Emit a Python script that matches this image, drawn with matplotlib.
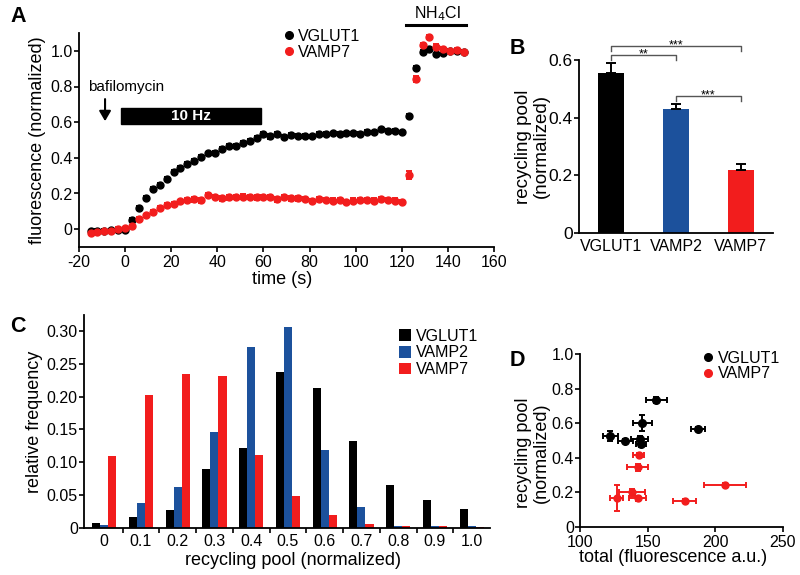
import numpy as np
import matplotlib
matplotlib.use("Agg")
import matplotlib.pyplot as plt
from matplotlib.lines import Line2D
from matplotlib.patches import Rectangle

plt.rcParams['font.family'] = ['Liberation Sans', 'DejaVu Sans']
plt.rcParams['axes.unicode_minus'] = False
plt.rcParams['axes.linewidth'] = 1.3
plt.rcParams['xtick.direction'] = 'out'
plt.rcParams['ytick.direction'] = 'out'

BLACK = '#000000'
BLUE = '#1c519c'
RED = '#f21d1d'

# ---- panel A: time course ----
time_s = [-15, -12, -9, -6, -3, 0, 3, 6, 9, 12, 15, 18, 21, 24, 27, 30, 33, 36, 39,
          42, 45, 48, 51, 54, 57, 60, 63, 66, 69, 72, 75, 78, 81, 84, 87, 90, 93, 96,
          99, 102, 105, 108, 111, 114, 117, 120, 123, 126, 129, 132, 135, 138, 141,
          144, 147]
vglut1_trace = [-0.01, -0.008, -0.008, -0.006, -0.003, -0.003, 0.053, 0.12, 0.175,
                0.225, 0.25, 0.283, 0.32, 0.345, 0.365, 0.385, 0.405, 0.425, 0.428,
                0.45, 0.468, 0.468, 0.485, 0.495, 0.512, 0.535, 0.52, 0.535, 0.518,
                0.527, 0.525, 0.525, 0.52, 0.535, 0.535, 0.537, 0.535, 0.537, 0.537,
                0.533, 0.545, 0.543, 0.56, 0.553, 0.55, 0.543, 0.636, 0.902, 0.994,
                1.01, 0.98, 0.987, 1.0, 1.0, 0.996]
vglut1_trace_err = [0.008, 0.008, 0.008, 0.008, 0.008, 0.008, 0.009, 0.01, 0.01,
                    0.01, 0.01, 0.01, 0.01, 0.01, 0.01, 0.01, 0.01, 0.01, 0.01,
                    0.01, 0.01, 0.01, 0.01, 0.01, 0.01, 0.01, 0.012, 0.012, 0.01,
                    0.01, 0.01, 0.01, 0.01, 0.01, 0.01, 0.01, 0.01, 0.01, 0.01,
                    0.01, 0.01, 0.01, 0.01, 0.01, 0.01, 0.01, 0.012, 0.012, 0.01,
                    0.01, 0.01, 0.01, 0.008, 0.008, 0.008]
vamp7_trace = [-0.022, -0.015, -0.013, -0.008, 0.0, 0.004, 0.015, 0.058, 0.077,
               0.096, 0.12, 0.135, 0.143, 0.156, 0.163, 0.167, 0.161, 0.19, 0.18,
               0.172, 0.178, 0.18, 0.183, 0.18, 0.178, 0.181, 0.18, 0.167, 0.18,
               0.172, 0.172, 0.168, 0.156, 0.17, 0.162, 0.16, 0.162, 0.152, 0.16,
               0.162, 0.165, 0.16, 0.168, 0.165, 0.16, 0.152, 0.304, 0.842, 1.034,
               1.077, 1.024, 1.01, 1.0, 1.006, 0.996]
vamp7_trace_err = [0.01, 0.01, 0.01, 0.01, 0.01, 0.01, 0.01, 0.01, 0.01,
                   0.01, 0.01, 0.01, 0.01, 0.01, 0.01, 0.012, 0.012, 0.012, 0.012,
                   0.012, 0.012, 0.012, 0.012, 0.012, 0.012, 0.012, 0.012, 0.012, 0.012,
                   0.012, 0.012, 0.012, 0.012, 0.012, 0.012, 0.012, 0.012, 0.012, 0.012,
                   0.012, 0.012, 0.012, 0.012, 0.012, 0.012, 0.012, 0.02, 0.015, 0.012,
                   0.012, 0.012, 0.01, 0.01, 0.01, 0.01]

# ---- panel B: mean recycling pool ----
probes = ['VGLUT1', 'VAMP2', 'VAMP7']
pool_mean = [0.555, 0.43, 0.218]
pool_sem = [0.035, 0.017, 0.022]

# ---- panel C: histogram ----
bin_labels = ['0', '0.1', '0.2', '0.3', '0.4', '0.5', '0.6', '0.7', '0.8', '0.9', '1.0']
freq_vglut1 = [0.007, 0.016, 0.027, 0.09, 0.121, 0.238, 0.213, 0.132, 0.065, 0.043, 0.029]
freq_vamp2 = [0.004, 0.038, 0.062, 0.146, 0.275, 0.306, 0.119, 0.032, 0.003, 0.003, 0.003]
freq_vamp7 = [0.11, 0.202, 0.234, 0.231, 0.111, 0.049, 0.02, 0.006, 0.003, 0.003, 0.002]

# ---- panel D: pool vs total ----
total_vglut1 = [156.5, 146, 187, 122.5, 133.5, 144, 145]
total_vglut1_err = [7.9, 7, 5, 5.5, 5.3, 6, 3.5]
frac_vglut1 = [0.734, 0.60, 0.566, 0.525, 0.50, 0.51, 0.48]
frac_vglut1_err = [0.02, 0.045, 0.01, 0.03, 0.01, 0.015, 0.015]
total_vamp7 = [143.5, 142.5, 207, 138.5, 127, 142.5, 177.5]
total_vamp7_err = [4, 8, 15.5, 9.8, 4.9, 6.3, 8.5]
frac_vamp7 = [0.418, 0.344, 0.243, 0.20, 0.167, 0.167, 0.152]
frac_vamp7_err = [0.01, 0.02, 0.01, 0.02, 0.077, 0.015, 0.01]

W, H = 800, 575
fig = plt.figure(figsize=(8, 5.75), dpi=100)


def add_ax(l, t, r, b):
    a = fig.add_axes([l / W, 1 - b / H, (r - l) / W, (b - t) / H])
    a.spines['top'].set_visible(False)
    a.spines['right'].set_visible(False)
    a.tick_params(length=3.5, width=1.2, pad=1, labelsize=11.5)
    return a


# ===== A =====
ax = add_ax(79, 33, 494, 247)
ax.errorbar(time_s, vglut1_trace, yerr=vglut1_trace_err, fmt='o', ms=5, color=BLACK,
            ecolor=BLACK, elinewidth=1.4, capsize=2.2, capthick=1.4)
ax.errorbar(time_s, vamp7_trace, yerr=vamp7_trace_err, fmt='o', ms=5, color=RED,
            ecolor=RED, elinewidth=1.4, capsize=2.2, capthick=1.4)
ax.set_xlim(-20, 160)
ax.set_ylim(-0.1, 1.1)
ax.set_xticks(range(-20, 161, 20))
ax.set_yticks([0, 0.2, 0.4, 0.6, 0.8, 1.0])
ax.set_yticklabels(['0', '0.2', '0.4', '0.6', '0.8', '1.0'])
ax.tick_params(axis='x', pad=2)
ax.set_xlabel('time (s)', fontsize=13)
ax.xaxis.set_label_coords(0.49, -0.112)
ax.set_ylabel('fluorescence (normalized)', fontsize=13)
ax.yaxis.set_label_coords(-0.08, 0.5)
ax.text(-16, 0.8, 'bafilomycin', fontsize=11, va='center', ha='left')
ax.annotate('', xy=(-8.7, 0.59), xytext=(-8.7, 0.745),
            arrowprops=dict(arrowstyle='-|>,head_width=0.35,head_length=0.6',
                            color='black', lw=1.5))
ax.add_patch(Rectangle((-2, 0.59), 61, 0.09, color='black'))
ax.text(28.5, 0.633, '10 Hz', color='white', fontsize=11, fontweight='bold',
        ha='center', va='center')
ax.plot([122, 148], [1.143, 1.143], color='black', lw=2.2, clip_on=False)
ax.text(135.5, 1.21, 'NH$_4$Cl', fontsize=11.5, ha='center', va='center')
ax.legend(handles=[Line2D([], [], marker='o', ls='', ms=5.5, color=BLACK),
                   Line2D([], [], marker='o', ls='', ms=5.5, color=RED)],
          labels=['VGLUT1', 'VAMP7'], loc='upper left', bbox_to_anchor=(0.49, 1.02),
          frameon=False, fontsize=11.5, handlelength=0.8, handletextpad=0.2,
          labelspacing=0.05, borderpad=0, borderaxespad=0)

# ===== B =====
bx = add_ax(579, 60, 773, 233)
xb = np.arange(len(probes))
bx.bar(xb, pool_mean, width=0.4, color=[BLACK, BLUE, RED],
       yerr=[[0, 0, 0], pool_sem], error_kw=dict(ecolor='black', elinewidth=1.4,
                                                capsize=3.5, capthick=1.4))
bx.set_xlim(-0.5, 2.5)
bx.set_ylim(0, 0.6)
bx.set_yticks([0, 0.2, 0.4, 0.6])
bx.set_yticklabels(['0', '0.2', '0.4', '0.6'])
bx.set_xticks(xb)
bx.set_xticklabels(probes, fontsize=11.5)
bx.tick_params(axis='x', length=0, pad=4)
bx.tick_params(axis='y', labelsize=12.5)
bx.set_ylabel('recycling pool\n(normalized)', fontsize=13.5, linespacing=1.05)
bx.yaxis.set_label_coords(-0.15, 0.5)


def bracket(a, x0, x1, y, label):
    a.plot([x0, x0, x1, x1], [y - 0.017, y, y, y - 0.017], color='#555555', lw=1,
           clip_on=False)
    a.text((x0 + x1) / 2, y + 0.003, label, ha='center', va='center', fontsize=9)


bracket(bx, 0, 1, 0.617, '**')
bracket(bx, 0, 2, 0.649, '***')
bracket(bx, 1, 2, 0.475, '***')

# ===== C =====
cx = add_ax(84, 315, 490, 528)
xc = np.arange(len(bin_labels))
bw = 0.22
cx.bar(xc - bw, freq_vglut1, width=bw, color=BLACK, label='VGLUT1')
cx.bar(xc, freq_vamp2, width=bw, color=BLUE, label='VAMP2')
cx.bar(xc + bw, freq_vamp7, width=bw, color=RED, label='VAMP7')
cx.set_xlim(-0.55, 10.5)
cx.set_ylim(0, 0.324)
cx.set_yticks([0, 0.05, 0.10, 0.15, 0.20, 0.25, 0.30])
cx.set_yticklabels(['0', '0.05', '0.10', '0.15', '0.20', '0.25', '0.30'])
cx.set_xticks(xc)
cx.set_xticklabels(bin_labels)
cx.set_xticks(xc[:-1] + 0.5, minor=True)
cx.tick_params(axis='x', which='major', length=0, pad=4.5)
cx.tick_params(axis='x', which='minor', length=3.5, width=1.2)
cx.set_xlabel('recycling pool (normalized)', fontsize=13)
cx.xaxis.set_label_coords(0.515, -0.115)
cx.set_ylabel('relative frequency', fontsize=13)
cx.yaxis.set_label_coords(-0.1, 0.5)
cx.legend(loc='upper left', bbox_to_anchor=(0.775, 0.935), frameon=False, fontsize=11.5,
          handlelength=0.75, handleheight=0.75, handletextpad=0.35, labelspacing=0.1,
          borderpad=0, borderaxespad=0)

# ===== D =====
dx = add_ax(580, 354, 783, 527)
dx.errorbar(total_vglut1, frac_vglut1, xerr=total_vglut1_err, yerr=frac_vglut1_err,
            fmt='o', ms=5.5, color=BLACK, elinewidth=1.4, capsize=2, capthick=1.4)
dx.errorbar(total_vamp7, frac_vamp7, xerr=total_vamp7_err, yerr=frac_vamp7_err,
            fmt='o', ms=5, color=RED, elinewidth=1.4, capsize=2, capthick=1.4)
dx.set_xlim(100, 250)
dx.set_ylim(0, 1.0)
dx.set_xticks([100, 150, 200, 250])
dx.set_yticks([0, 0.2, 0.4, 0.6, 0.8, 1.0])
dx.set_yticklabels(['0', '0.2', '0.4', '0.6', '0.8', '1.0'])
dx.tick_params(axis='x', pad=2)
dx.set_xlabel('total (fluorescence a.u.)', fontsize=13)
dx.xaxis.set_label_coords(0.46, -0.13)
dx.set_ylabel('recycling pool\n(normalized)', fontsize=13, linespacing=1.05)
dx.yaxis.set_label_coords(-0.15, 0.43)
dx.legend(handles=[Line2D([], [], marker='o', ls='', ms=5.5, color=BLACK),
                   Line2D([], [], marker='o', ls='', ms=5.5, color=RED)],
          labels=['VGLUT1', 'VAMP7'], loc='upper left', bbox_to_anchor=(0.6, 1.02),
          frameon=False, fontsize=11.5, handlelength=0.8, handletextpad=0.2,
          labelspacing=0.05, borderpad=0, borderaxespad=0)

# panel letters
for letter, (px, py) in {'A': (10, 17), 'B': (510, 48), 'C': (10, 327), 'D': (510, 360)}.items():
    fig.text(px / W, 1 - py / H, letter, fontsize=15.5, fontweight='bold', va='center', ha='left')

fig.savefig('out.png', dpi=100)
